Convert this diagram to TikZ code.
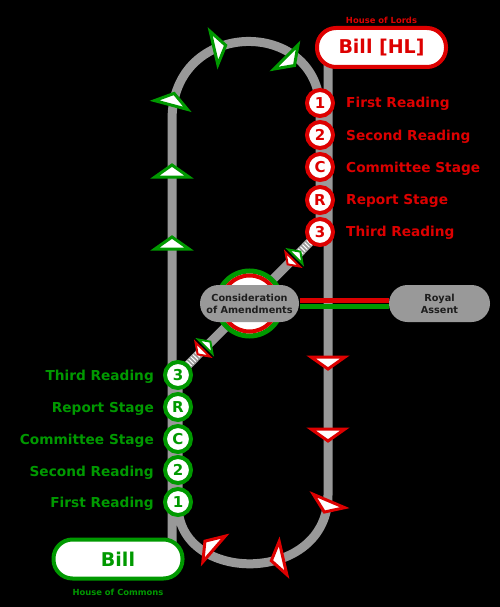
\documentclass[tikz,border=0pt]{standalone}
\usepackage{fontspec}
\setmainfont{DejaVu Sans}
\definecolor{rc}{RGB}{221,0,0}
\definecolor{gc}{RGB}{0,153,0}
\definecolor{trk}{RGB}{153,153,153}
\definecolor{txtdark}{RGB}{30,30,30}
\begin{document}
\begin{tikzpicture}[x=1pt,y=-1pt,
  track/.style={draw=trk, line width=9, line join=round},
  hatch/.style={draw=white, line width=7, dash pattern=on 1pt off 2pt},
  rstage/.style={circle, draw=rc, fill=white, line width=4, minimum size=26, inner sep=0, text=rc, font=\bfseries\fontsize{15}{15}\selectfont},
  gstage/.style={rstage, draw=gc, text=gc},
  rlab/.style={anchor=base west, text=rc, inner sep=0, font=\bfseries\fontsize{13.7}{16}\selectfont},
  glab/.style={rlab, anchor=base east, text=gc},
  billbox/.style={rectangle, rounded corners=19, minimum width=129, minimum height=39, line width=4, fill=white, inner sep=0, font=\bfseries\fontsize{19}{19}\selectfont},
  house/.style={inner sep=0, font=\bfseries\fontsize{8.4}{9}\selectfont},
  greybox/.style={rectangle, fill=trk, rounded corners=18.5, minimum height=37, inner sep=0, align=center, text=txtdark, font=\bfseries\fontsize{9.7}{12}\selectfont},
  arr/.pic={\draw[line width=3, fill=white, miter limit=10] (-17,0) -- (17,0) -- (0,-12) -- cycle;},
  pair/.pic={
    \draw[line width=2, black] (-13,0) -- (13,0);
    \draw[gc, line width=2, fill=white] (-10,-2) -- (10,-2) -- (0,-9) -- cycle;
    \draw[rc, line width=2, fill=white] (-10,2) -- (10,2) -- (0,9) -- cycle;}
]
\useasboundingbox (0,0) rectangle (500,607);
\fill[black] (0,0) rectangle (500,607);

% stage circle positions
\coordinate (pr1) at (320,103);
\coordinate (pr2) at (320,135);
\coordinate (prC) at (320,167);
\coordinate (prR) at (320,200);
\coordinate (pr3) at (320,232);
\coordinate (pg3) at (178,375);
\coordinate (pgR) at (178,407);
\coordinate (pgC) at (178,439);
\coordinate (pg2) at (178,470);
\coordinate (pg1) at (178,502);
\coordinate (pu) at (294,258);
\coordinate (pl) at (204,348);
\coordinate (cc) at (249.5,303.5);

% track
\coordinate (lbot) at (172,559);
\coordinate (ltop) at (172,120);
\coordinate (tend) at (320,110);
\coordinate (gend) at (178,505);
\coordinate (rbot) at (328,495);
\coordinate (rtop) at (328,47);
\draw[track] (lbot) -- (ltop) .. controls (172,17) and (320,17) .. (tend) -- (pr3) -- (pg3) -- (gend)
  .. controls (178,585) and (328,585) .. (rbot) -- (rtop);
\draw[hatch] (pu) -- (pr3);
\draw[hatch] (pl) -- (pg3);

% consideration and royal assent
\node[greybox, minimum width=101] (royal) at (439.5,303.5) {Royal\\Assent};
\draw[rc, line width=5] (cc) ++(50,-3.5) -- ([yshift=3.5pt]royal.west);
\draw[gc, line width=5] (cc) ++(50,3) -- ([yshift=-3pt]royal.west);
\draw[gc, line width=5, fill=white] (cc) circle[radius=32.5];
\draw[rc, line width=4] (cc) circle[radius=28];
\node[greybox, minimum width=99] (cons) at (cc) {Consideration\\of Amendments};

% stage circles
\node[rstage] (r1) at (pr1) {1};
\node[rstage] (r2) at (pr2) {2};
\node[rstage] (rC) at (prC) {C};
\node[rstage] (rR) at (prR) {R};
\node[rstage] (r3) at (pr3) {3};
\node[gstage] (g3) at (pg3) {3};
\node[gstage] (gR) at (pgR) {R};
\node[gstage] (gC) at (pgC) {C};
\node[gstage] (g2) at (pg2) {2};
\node[gstage] (g1) at (pg1) {1};

% arrows
\pic[color=gc] at (172,177) {arr};
\pic[color=gc] at (172,249) {arr};
\pic[color=gc, rotate=-15] at (171,105) {arr};
\pic[color=gc, rotate=-77] at (214,48) {arr};
\pic[color=gc, rotate=-135] at (286,57) {arr};
\pic[color=rc, rotate=180] at (328,357) {arr};
\pic[color=rc, rotate=180] at (328,429) {arr};
\pic[color=rc, rotate=157] at (329,501) {arr};
\pic[color=rc, rotate=49] at (214,549) {arr};
\pic[color=rc, rotate=103] at (283,558) {arr};
\pic[rotate=-45] at (pu) {pair};
\pic[rotate=-45] at (pl) {pair};

% bills
\node[billbox, draw=rc, text=rc] (billhl) at (381.5,47.5) {Bill [HL]};
\node[house, text=rc] (lords) at (381.5,20) {House of Lords};
\node[billbox, draw=gc, text=gc] (bill) at (118,559) {Bill};
\node[house, text=gc] (commons) at (118,592) {House of Commons};

% labels
\node[rlab] (lr1) at (346,108) {First Reading};
\node[rlab] (lr2) at (346,140) {Second Reading};
\node[rlab] (lrC) at (346,172.5) {Committee Stage};
\node[rlab] (lrR) at (346,204.5) {Report Stage};
\node[rlab] (lr3) at (346,236.5) {Third Reading};
\node[glab] (lg3) at (154,380) {Third Reading};
\node[glab] (lgR) at (154,412) {Report Stage};
\node[glab] (lgC) at (154,444) {Committee Stage};
\node[glab] (lg2) at (154,476) {Second Reading};
\node[glab] (lg1) at (154,507.5) {First Reading};
\end{tikzpicture}
\end{document}
